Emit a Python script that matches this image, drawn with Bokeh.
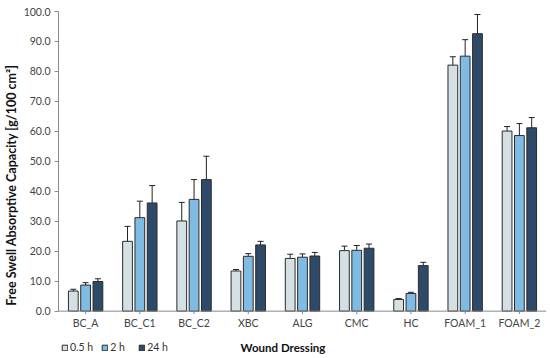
from bokeh.plotting import figure
from bokeh.models import (ColumnDataSource, FactorRange, Whisker, TeeHead, Legend, LegendItem,
                          SingleIntervalTicker, NumeralTickFormatter, Range1d, Span, Label)
from bokeh.core.properties import value
from bokeh.transform import dodge
from bokeh.embed import file_html
from bokeh.resources import INLINE

categories = ["BC_A", "BC_C1", "BC_C2", "XBC", "ALG", "CMC", "HC", "FOAM_1", "FOAM_2"]
series = ["0.5 h", "2 h", "24 h"]
v05 = [6.7, 23.3, 30.1, 13.4, 17.6, 20.2, 3.9, 82.1, 60.1]
e05 = [0.6, 5.0, 6.2, 0.5, 1.4, 1.5, 0.3, 2.8, 1.5]
v2 = [8.7, 31.2, 37.3, 18.3, 18.0, 20.3, 5.9, 85.1, 58.6]
e2 = [0.8, 5.5, 6.6, 0.9, 1.1, 1.6, 0.4, 5.5, 4.0]
v24 = [9.9, 36.1, 43.9, 22.1, 18.4, 21.0, 15.2, 92.6, 61.2]
e24 = [0.9, 5.8, 7.8, 1.2, 1.2, 1.4, 1.1, 6.4, 3.4]
colors = ["#d4e0e4", "#7fbbe2", "#2f4a68"]

FONT = "Lato"
AXIS_COLOR = "#8a8a8a"

# frame spans the full lower area; the x axis is drawn at y = 0 inside it
p = figure(x_range=FactorRange(*categories), y_range=Range1d(-15.8, 100),
           width=550, height=358, output_backend="svg", toolbar_location=None,
           x_axis_location=None,
           min_border_left=52, min_border_right=4, min_border_top=11, min_border_bottom=0)
p.outline_line_color = None
p.xgrid.grid_line_color = None
p.ygrid.grid_line_color = None

offsets = [-0.227, 0.0, 0.227]
items = []
for vals, errs, off, col, name in zip([v05, v2, v24], [e05, e2, e24], offsets, colors, series):
    src = ColumnDataSource(dict(cat=categories, val=vals,
                                lo=[v - e for v, e in zip(vals, errs)],
                                hi=[v + e for v, e in zip(vals, errs)]))
    r = p.vbar(x=dodge("cat", off, range=p.x_range), top="val", width=0.18, source=src,
               fill_color=col, line_color="#2b2b2b", line_width=1)
    w = Whisker(base=dodge("cat", off, range=p.x_range), lower="lo", upper="hi", source=src,
                line_color="#222222", line_width=1,
                upper_head=TeeHead(size=6, line_color="#222222", line_width=1),
                lower_head=TeeHead(size=6, line_color="#222222", line_width=1))
    p.add_layout(w)
    items.append(LegendItem(label=name, renderers=[r]))

# x axis line, ticks and category labels
p.add_layout(Span(location=0, dimension="width", line_color=AXIS_COLOR, line_width=1))
p.segment(x0=categories, y0=0, x1=categories, y1=-1.0, line_color=AXIS_COLOR, line_width=1)
p.text(x=categories, y=-4.1, text=categories, text_align="center", text_baseline="middle",
       text_font=value(FONT), text_font_size="10.5px", text_color="#444444")

p.add_layout(Label(x=224.5, y=11, x_units="screen", y_units="screen", text="Wound Dressing",
                   text_align="center", text_baseline="middle", text_font=FONT,
                   text_font_style="bold", text_font_size="11.5px", text_color="#111111"))

legend = Legend(items=items, orientation="horizontal", location=(3, 5),
                background_fill_alpha=0, border_line_color=None,
                label_text_font=FONT, label_text_font_size="10.5px", label_text_color="#333333",
                glyph_width=7, glyph_height=7, label_standoff=2, spacing=8, padding=0, margin=0,
                label_height=9)
p.add_layout(legend, "center")

ax = p.yaxis[0]
ax.bounds = (0, 100)
ax.ticker = SingleIntervalTicker(interval=10)
ax.formatter = NumeralTickFormatter(format="0.0")
ax.axis_line_color = AXIS_COLOR
ax.major_tick_line_color = AXIS_COLOR
ax.minor_tick_line_color = None
ax.major_tick_in = 0
ax.major_tick_out = 4
ax.major_label_standoff = 4
ax.major_label_text_font = FONT
ax.major_label_text_font_size = "10.5px"
ax.major_label_text_color = "#444444"
ax.axis_label = "Free Swell Absorptive Capacity [g/100 cm²]"
ax.axis_label_text_font = FONT
ax.axis_label_text_font_style = "bold"
ax.axis_label_text_font_size = "12.5px"
ax.axis_label_text_color = "#111111"
ax.axis_label_standoff = 2

open("out.html", "w").write(file_html(p, INLINE))
